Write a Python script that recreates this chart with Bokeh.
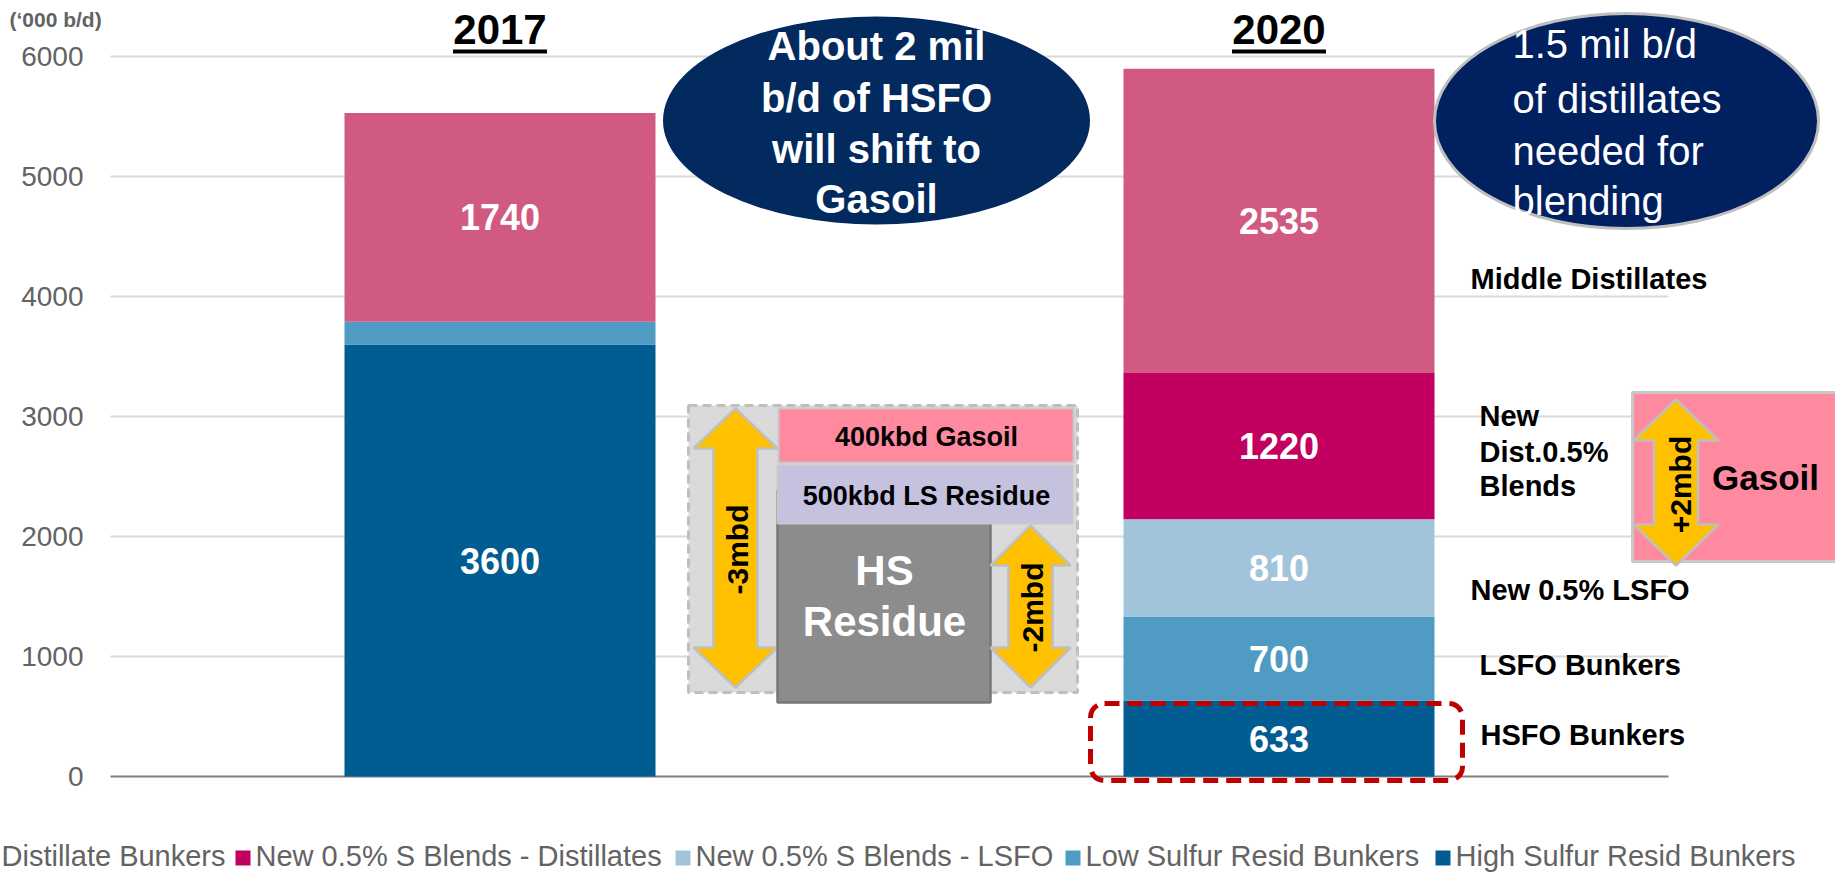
import math
from bokeh.plotting import figure
from bokeh.models import ColumnDataSource, Range1d, BoxAnnotation
from bokeh.core.properties import value
from bokeh.embed import file_html
from bokeh.resources import INLINE

# ------------------------------------------------------------------ data
categories = ["2017", "2020"]
series_names = ["High Sulfur Resid Bunkers", "Low Sulfur Resid Bunkers",
                "New 0.5% S Blends - LSFO", "New 0.5% S Blends - Distillates",
                "Distillate Bunkers"]
hs_resid = [3600, 633]
ls_resid = [190, 700]
new_lsfo = [0, 810]
new_dist = [0, 1220]
distillates = [1740, 2535]
y_ticks = [0, 1000, 2000, 3000, 4000, 5000, 6000]
y_unit_label = "(\u2018000 b/d)"

note_left = ["About 2 mil", "b/d of HSFO", "will shift to", "Gasoil"]
note_right = ["1.5 mil b/d", "of distillates", "needed for", "blending"]

# ------------------------------------------------------------------ styles / layout
colors = ["#005C91", "#4F9BC3", "#A2C4DB", "#C20060", "#D15A82"]
FONT = value("Liberation Sans")
W, H = 1835, 872
Y0_PX, PXV = 776.0, 0.12          # pixel row of value 0, pixels per unit
X0_PX, CAT_PX = 499.5, 779.0      # pixel column of first category, pixels per category
BAR_W = 311.0 / CAT_PX


def X(rx):
    return (rx - X0_PX) / CAT_PX


def Y(ry):
    return (Y0_PX - ry) / PXV


p = figure(width=W, height=H, output_backend="svg", toolbar_location=None,
           x_range=Range1d(X(0), X(W)), y_range=Range1d(Y(H), Y(0)),
           x_axis_type=None, y_axis_type=None, min_border=0, title=None)
p.outline_line_color = None
p.background_fill_color = "white"
p.border_fill_color = "white"


def txt(rx, ry, s, size, color, bold=True, align="center", angle=0.0):
    p.text(x=[X(rx)], y=[Y(ry)], text=[s], text_font=FONT, text_font_size=value(f"{size}px"),
           text_font_style="bold" if bold else "normal", text_color=color,
           text_align=align, text_baseline="middle", angle=angle)


def darrow(cx, top, bot, hw, sw, hl):
    xs = [cx, cx + hw / 2, cx + sw / 2, cx + sw / 2, cx + hw / 2, cx,
          cx - hw / 2, cx - sw / 2, cx - sw / 2, cx - hw / 2]
    ys = [top, top + hl, top + hl, bot - hl, bot - hl, bot,
          bot - hl, bot - hl, top + hl, top + hl]
    p.patch([X(v) for v in xs], [Y(v) for v in ys], fill_color="#FFC000",
            line_color="#BFBFBF", line_width=2.5)


def box(l, r, t, b, fill, line, lw=2, dash="solid"):
    p.quad(left=[X(l)], right=[X(r)], top=[Y(t)], bottom=[Y(b)], fill_color=fill,
           line_color=line, line_width=lw, line_dash=dash)


# ------------------------------------------------------------------ grid + ticks
grid_ticks = [t for t in y_ticks if t != 0]
p.segment(x0=[X(110)] * len(grid_ticks), x1=[X(1668)] * len(grid_ticks),
          y0=grid_ticks, y1=grid_ticks, line_color="#D9D9D9", line_width=2)
p.segment(x0=[X(110)], x1=[X(1668)], y0=[0], y1=[0], line_color="#7F7F7F", line_width=2)
TICK_SIZE = 28
p.text(x=[X(83)] * len(y_ticks), y=y_ticks,
       text=[str(t) for t in y_ticks], text_font=FONT, text_font_size=value(f"{TICK_SIZE}px"),
       text_color="#636363", text_align="right", text_baseline="middle")
txt(9, 19, y_unit_label, 21, "#636363", bold=True, align="left")

# ------------------------------------------------------------------ stacked bars
keys = ["hs", "ls", "lsfo", "dist", "mid"]
data = dict(x=list(range(len(categories))), hs=hs_resid, ls=ls_resid,
            lsfo=new_lsfo, dist=new_dist, mid=distillates)
src = ColumnDataSource(data)
p.vbar_stack(keys, x="x", width=BAR_W, fill_color=colors, line_color=None, source=src)

LABEL_SIZE = 36
lx, ly, lt = [], [], []
for i in range(len(categories)):
    bottom = 0
    for k in keys:
        v = data[k][i]
        if v >= 300:
            lx.append(i)
            ly.append(bottom + v / 2)
            lt.append(str(v))
        bottom += v
p.text(x=lx, y=ly, text=lt, text_font=FONT, text_font_size=value(f"{LABEL_SIZE}px"),
       text_font_style="bold", text_color="white", text_align="center",
       text_baseline="middle")

# titles with underline
TITLE_SIZE = 42
p.text(x=list(range(len(categories))), y=[Y(29)] * len(categories),
       text=categories, text_font=FONT, text_font_size=value(f"{TITLE_SIZE}px"),
       text_font_style="bold", text_color="black", text_align="center",
       text_baseline="middle")
half_ul = 47.0 / CAT_PX
p.quad(left=[i - half_ul for i in range(len(categories))],
       right=[i + half_ul for i in range(len(categories))],
       top=[Y(49)] * len(categories), bottom=[Y(53)] * len(categories),
       fill_color="black", line_color=None)

# ------------------------------------------------------------------ middle diagram
box(688, 1077, 405, 692, "#DADADA", "#BFBFBF", lw=3, dash="9 5")
darrow(735, 408, 687, 84, 44, 40)
box(777, 990, 490, 702, "#8C8C8C", "#777777", lw=2.5)
box(778, 1073, 408, 462, "#FF8AA0", "#C8C8C8", lw=2)
box(777, 1072, 465, 523, "#C4C2DF", "#C8C8C8", lw=2)
darrow(1030, 525, 687, 80, 44, 40)
txt(926, 436, "400kbd Gasoil", 27, "black")
txt(926, 495, "500kbd LS Residue", 27, "black")
txt(884, 570, "HS", 42, "white")
txt(884, 621, "Residue", 42, "white")
txt(737, 549, "-3mbd", 30, "black", angle=math.pi / 2)
txt(1032, 607, "-2mbd", 30, "black", angle=math.pi / 2)

# ------------------------------------------------------------------ call-out ellipses
p.ellipse(x=[X(876)], y=[Y(120)], width=[427 / CAT_PX], height=[208 / PXV],
          fill_color="#022A5E", line_color=None)
for s, cy in zip(note_left, [45, 97, 148, 198]):
    txt(876, cy, s, 40, "white")
p.ellipse(x=[X(1626)], y=[Y(120.5)], width=[384 / CAT_PX], height=[215 / PXV],
          fill_color="#00205F", line_color="#BFBFBF", line_width=3)
for s, cy in zip(note_right, [43, 98, 150, 200]):
    txt(1512, cy, s, 40, "white", bold=False, align="left")

# ------------------------------------------------------------------ right-hand labels
right_labels = [("Middle Distillates", 1470, 278), ("New", 1479, 415),
                ("Dist.0.5%", 1479, 451), ("Blends", 1479, 485),
                ("New 0.5% LSFO", 1470, 589), ("LSFO Bunkers", 1479, 664),
                ("HSFO Bunkers", 1480, 734)]
for s, rx, ry in right_labels:
    txt(rx, ry, s, 29, "black", align="left")

# Gasoil box
box(1632, 1845, 392, 561, "#FF8AA0", "#C8C8C8", lw=3)
darrow(1675.5, 399, 565, 85, 44, 41)
txt(1680, 484, "+2mbd", 30, "black", angle=math.pi / 2)
txt(1765, 477, "Gasoil", 35, "black")

# red dashed highlight
p.add_layout(BoxAnnotation(left=X(1090), right=X(1462), top=Y(703), bottom=Y(780),
                           fill_alpha=0, line_alpha=1, line_color="#C00000", line_width=5,
                           line_dash="15 8", border_radius=14))

# ------------------------------------------------------------------ legend (bottom)
LEG_SIZE = 29
leg_order = list(reversed(range(len(series_names))))
leg_text_x = [1, 255, 695, 1085, 1455]
for j, si in enumerate(leg_order):
    tx = leg_text_x[j]
    box(tx - 20, tx - 5, 850, 865, colors[si], None, lw=0)
    txt(tx, 855, series_names[si], LEG_SIZE, "#636363", bold=False, align="left")

open("out.html", "w").write(file_html(p, INLINE))
